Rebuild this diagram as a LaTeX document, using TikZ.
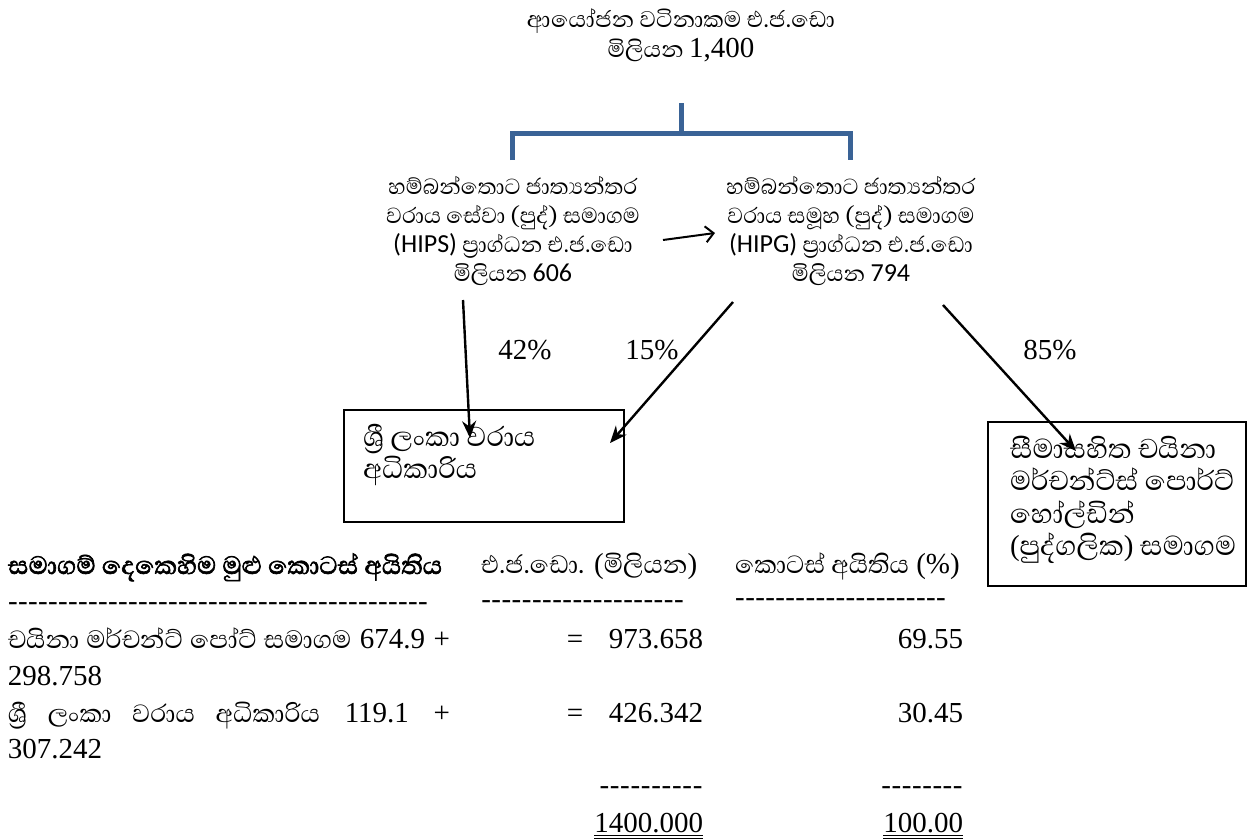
\documentclass[tikz,border=0pt]{standalone}
\usepackage{fontspec}
\setmainfont{Liberation Serif}
\newfontfamily\sinhfont[Script=Sinhala,AutoFakeBold=2]{Abhaya Libre}
\newfontfamily\calbfont{Carlito}
\usetikzlibrary{arrows.meta,calc}
\definecolor{brk}{RGB}{58,99,150}
\newcommand{\shtxt}[1]{{\sinhfont\fontsize{32}{34}\selectfont #1}}
\newcommand{\dashfill}[1]{\makebox[#1]{\xleaders\hbox to 10pt{\hss-\hss}\hfill}}
\begin{document}
\begin{tikzpicture}[x=1pt,y=-1pt,
  every node/.style={inner sep=0pt,outer sep=0pt},
  lat/.style={font=\fontsize{29}{34}\selectfont},
  sitxt/.style={font=\sinhfont\fontsize{28}{29}\selectfont,align=center},
  boxtxt/.style={font=\sinhfont\fontsize{35}{32.5}\selectfont,align=left},
  frame/.style={draw,line width=1.8pt},
  arr/.style={line width=2.4pt,-{Stealth[length=17pt,width=14pt]}},
  harr/.style={line width=2pt,-{Straight Barb[length=8pt,width=16pt]}},
  brkt/.style={draw=brk,line width=5pt}]
\useasboundingbox (0,0) rectangle (1251,839);

% title
\node[sitxt,font=\sinhfont\fontsize{29}{30}\selectfont] (title) at (681,35) {ආයෝජන වටිනාකම එ.ජ.ඩො\\මිලියන {\rmfamily\fontsize{29}{29}\selectfont 1,400}};

% bracket
\coordinate (bt) at (681,103);
\coordinate (bm) at (681,133);
\coordinate (bl) at (512,160);
\coordinate (br) at (850,160);
\draw[brkt] (bl) |- (bm) -| (br);
\draw[brkt] (bt) -- (bm);

% companies
\node[sitxt] (hips) at (513,231) {හම්බන්තොට ජාත්^^^^200dයන්තර\\වරාය සේවා (පුද්) සමාගම\\{\calbfont\fontsize{26}{29}\selectfont (HIPS)} ප්^^^^200dරාග්ධන එ.ජ.ඩො\\මිලියන {\calbfont\fontsize{26}{29}\selectfont 606}};
\node[sitxt] (hipg) at (851,231) {හම්බන්තොට ජාත්^^^^200dයන්තර\\වරාය සමූහ (පුද්) සමාගම\\{\calbfont\fontsize{26}{29}\selectfont (HIPG)} ප්^^^^200dරාග්ධන එ.ජ.ඩො\\මිලියන {\calbfont\fontsize{26}{29}\selectfont 794}};

\coordinate (hs) at (663,240);
\coordinate (he) at (715,233);
\draw[harr] (hs) -- (he);

% boxes
\node[frame,anchor=north west,minimum width=280pt,minimum height=112pt] (sla) at (344,410) {};
\node[boxtxt,anchor=north west] (slatxt) at (363,424) {ශ්^^^^200dරී ලංකා වරාය\\අධිකාරිය};
\node[frame,anchor=north west,minimum width=258pt,minimum height=164pt] (cmp) at (988,422) {};
\node[boxtxt,anchor=west] (cmptxt) at (1010,500) {සීමාසහිත චයිනා\\මර්චන්ට්ස් පොර්ට්\\හෝල්ඩින්\\{\rmfamily\fontsize{29}{29}\selectfont (}පුද්ගලික{\rmfamily\fontsize{29}{29}\selectfont )} සමාගම};

% arrows
\coordinate (s42) at (463,300);
\coordinate (e42) at (470,438);
\coordinate (s15) at (733,302);
\coordinate (e15) at (610,443);
\coordinate (s85) at (943,305);
\coordinate (e85) at (1076,451);
\draw[arr] (s42) -- (e42);
\draw[arr] (s15) -- (e15);
\draw[arr] (s85) -- (e85);

\node[lat] (p42) at (525,350) {42\%};
\node[lat] (p15) at (652,350) {15\%};
\node[lat] (p85) at (1050,350) {85\%};

% table
\node[anchor=base west,font=\sinhfont\bfseries\fontsize{32}{32}\selectfont] (h1) at (8,574) {සමාගම් දෙකෙහිම මුළු කොටස් අයිතිය};
\node[lat,anchor=base west] (d1) at (8,610) {\dashfill{420pt}};
\node[lat,anchor=base west] (h2) at (481,573) {\shtxt{එ.ජ.ඩො.} (\shtxt{මිලියන})};
\node[lat,anchor=base west] (d2) at (481,608) {\dashfill{203pt}};
\node[lat,anchor=base west] (h3) at (735,573) {\shtxt{කොටස් අයිතිය} (\%)};
\node[lat,anchor=base west] (d3) at (735,606) {\dashfill{211pt}};

\node[lat,anchor=base west] (r1a) at (8,648) {\makebox[442pt][s]{\shtxt{චයිනා මර්චන්ට් පෝට් සමාගම} 674.9 +}};
\node[lat,anchor=base west] (r1b) at (8,685) {298.758};
\node[lat,anchor=base] (eq1) at (575,648) {=};
\node[lat,anchor=base east] (v1) at (703,648) {973.658};
\node[lat,anchor=base east] (q1) at (963,648) {69.55};

\node[lat,anchor=base west] (r2a) at (8,722) {\makebox[442pt][s]{\shtxt{ශ්^^^^200dරී ලංකා වරාය අධිකාරිය} 119.1 +}};
\node[lat,anchor=base west] (r2b) at (8,758) {307.242};
\node[lat,anchor=base] (eq2) at (575,722) {=};
\node[lat,anchor=base east] (v2) at (703,722) {426.342};
\node[lat,anchor=base east] (q2) at (963,722) {30.45};

\node[lat,anchor=base east] (d4) at (703,794) {\dashfill{104pt}};
\node[lat,anchor=base east] (d5) at (963,794) {\dashfill{82pt}};

\node[lat,anchor=base east] (t1) at (703,832) {1400.000};
\node[lat,anchor=base east] (t2) at (963,832) {100.00};
\draw[line width=1pt] ($(t1.base west)+(0,3.5)$) -- ($(t1.base east)+(0,3.5)$);
\draw[line width=1pt] ($(t1.base west)+(0,6.5)$) -- ($(t1.base east)+(0,6.5)$);
\draw[line width=1pt] ($(t2.base west)+(0,3.5)$) -- ($(t2.base east)+(0,3.5)$);
\draw[line width=1pt] ($(t2.base west)+(0,6.5)$) -- ($(t2.base east)+(0,6.5)$);
\end{tikzpicture}
\end{document}
